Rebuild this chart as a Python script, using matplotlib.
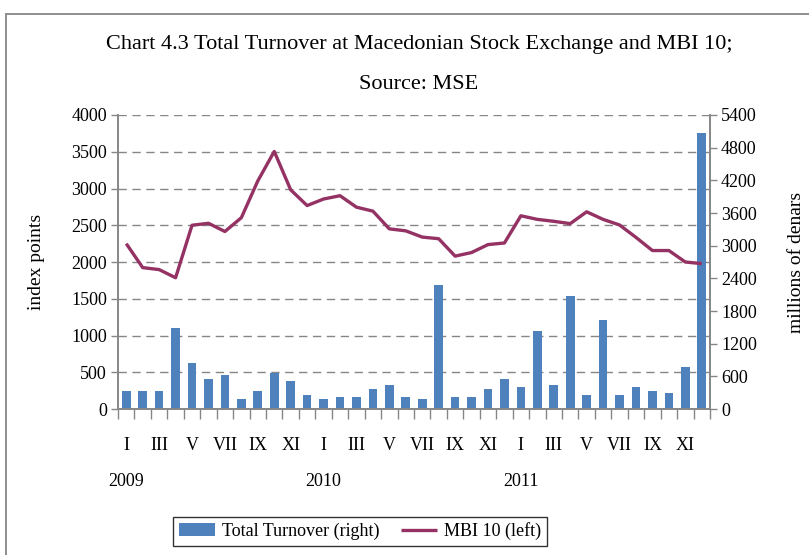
import numpy as np
import matplotlib
matplotlib.use("Agg")
import matplotlib.pyplot as plt
from matplotlib.patches import Rectangle
from matplotlib.transforms import blended_transform_factory

plt.rcParams['font.family'] = ['Liberation Serif', 'DejaVu Serif']

# monthly data, Jan 2009 - Dec 2011
turnover = [337, 337, 337, 1496, 852, 558, 631, 190, 337, 668, 521, 264,
            190, 227, 227, 374, 448, 227, 190, 2287, 227, 227, 374, 558,
            411, 1429, 448, 2084, 264, 1643, 264, 411, 337, 300, 779, 5064]
mbi10 = [2250, 1924, 1897, 1786, 2500, 2527, 2415, 2603, 3103, 3504, 2982, 2768,
         2857, 2902, 2746, 2692, 2451, 2424, 2339, 2317, 2080, 2129, 2237, 2259,
         2629, 2580, 2554, 2522, 2683, 2580, 2504, 2335, 2156, 2156, 2000, 1978]
month_labels = ["I", "III", "V", "VII", "IX", "XI"]
years = ["2009", "2010", "2011"]

bar_color = "#4F81BD"
line_color = "#953264"
grey = "#868686"

fig = plt.figure(figsize=(8.09, 5.55), dpi=100)
ax = fig.add_axes([0.1459, 0.263, 0.7317, 0.5298])
ax2 = ax.twinx()
ax.set_zorder(ax2.get_zorder() + 1)
ax.patch.set_visible(False)

x = np.arange(len(mbi10))

# bars on the right axis
ax2.bar(x, turnover, width=0.53, color=bar_color, zorder=2, label="Total Turnover (right)")
ax2.set_ylim(0, 5400)
ax2.set_yticks(np.arange(0, 5401, 600))

# dashed grid at left-axis ticks, drawn behind bars
for v in np.arange(500, 4001, 500):
    ax2.axhline(v * 5400 / 4000, color=grey, lw=1.0, ls=(0, (6, 4)), zorder=0)

# line on the left axis
ax.plot(x, mbi10, color=line_color, lw=2.4, solid_capstyle='butt', label="MBI 10 (left)")
ax.set_ylim(0, 4000)
ax.set_yticks(np.arange(0, 4001, 500))
ax.set_xlim(-0.5, len(x) - 0.5)

for a in (ax, ax2):
    a.spines['top'].set_visible(False)
    for s in ('left', 'right', 'bottom'):
        a.spines[s].set_color(grey)
        a.spines[s].set_linewidth(1.2)
    a.tick_params(axis='y', which='major', length=5, width=1, color=grey,
                  labelsize=13, pad=3)

ax.set_xticks(np.arange(-0.5, len(x), 1))
ax.tick_params(axis='x', length=7, width=1, color=grey, labelbottom=False)

trans = blended_transform_factory(ax.transData, fig.transFigure)
for i in range(0, len(x), 2):
    ax.text(i, 0.198, month_labels[(i % 12) // 2], ha='center', va='center',
            fontsize=13, transform=trans)
for k, yr in enumerate(years):
    ax.text(k * 12, 0.133, yr, ha='center', va='center', fontsize=13, transform=trans)

fig.text(0.045, 0.528, "index points", rotation=90, ha='center', va='center', fontsize=14)
fig.text(0.985, 0.528, "millions of denars", rotation=90, ha='center', va='center', fontsize=14)

fig.text(0.518, 0.919, "Chart 4.3 Total Turnover at Macedonian Stock Exchange and MBI 10;",
         ha='center', va='center', fontsize=16)
fig.text(0.518, 0.847, "Source: MSE", ha='center', va='center', fontsize=16)

h1, l1 = ax2.get_legend_handles_labels()
h2, l2 = ax.get_legend_handles_labels()
leg = fig.legend(h1 + h2, l1 + l2, loc='center', bbox_to_anchor=(0.445, 0.043),
                 ncol=2, fontsize=13, frameon=True, fancybox=False,
                 handlelength=2.0, handletextpad=0.4, columnspacing=1.2, borderpad=0.3)
leg.get_frame().set_edgecolor('black')
leg.get_frame().set_linewidth(1.0)

fig.patches.append(Rectangle((0.0074, -0.05), 1.2, 0.9748 + 0.05, transform=fig.transFigure,
                             fill=False, edgecolor=grey, lw=1.3))

fig.savefig("out.png", dpi=100)
